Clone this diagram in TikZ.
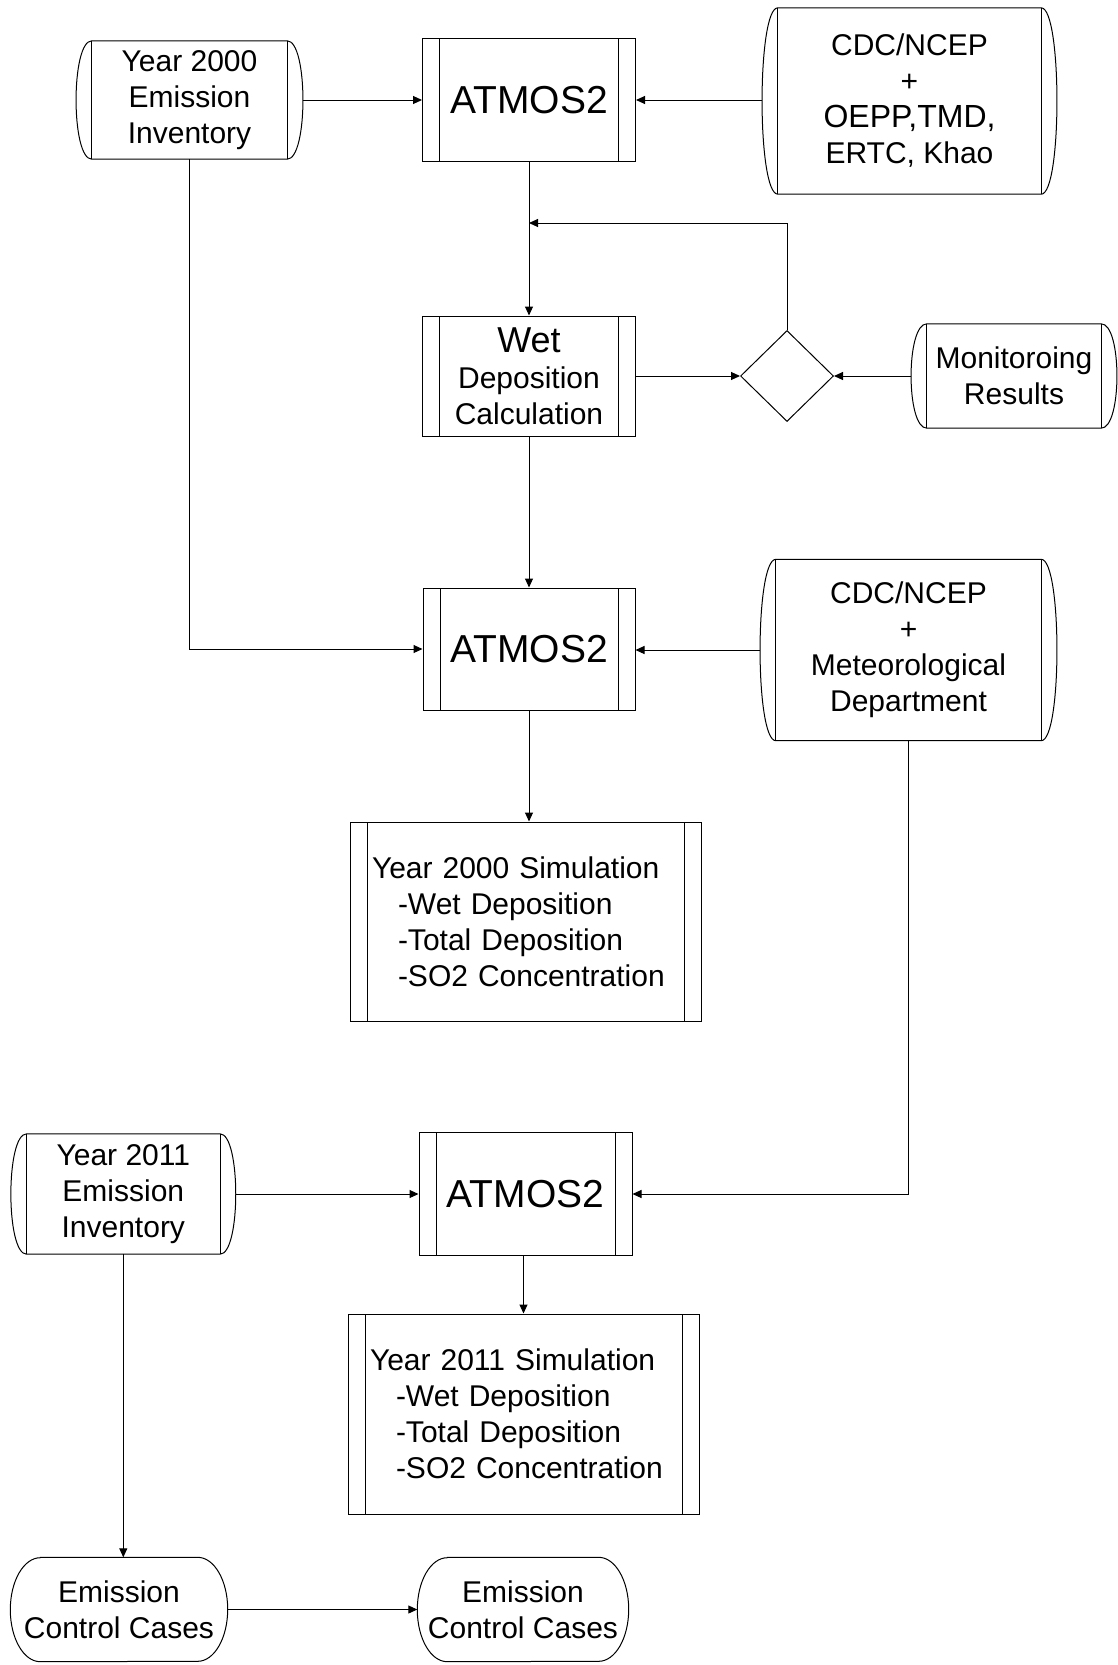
\documentclass[tikz,border=0pt]{standalone}
\usepackage{fontspec}
\setmainfont{Liberation Sans}
\usetikzlibrary{shapes.geometric,arrows.meta}
\begin{document}
\begin{tikzpicture}[x=1pt,y=-1pt,
  every node/.style={font=\fontsize{30pt}{36pt}\selectfont, inner sep=0pt, align=center},
  line/.style={line width=1pt},
  arr/.style={line width=1pt, -{Triangle[length=9pt,width=8pt]}},
  sub/.style={draw, line width=1pt, path picture={
     \draw[line width=1pt] ([xshift=17pt]path picture bounding box.north west) -- ([xshift=17pt]path picture bounding box.south west);
     \draw[line width=1pt] ([xshift=-17pt]path picture bounding box.north east) -- ([xshift=-17pt]path picture bounding box.south east);}},
  big/.style={font=\fontsize{39pt}{44pt}\selectfont},
  store/.style={draw=none},
  term/.style={draw=none, minimum width=#1, minimum height=104pt},
  simtext/.style={align=left, text width=307pt, inner xsep=22pt, minimum height=199pt}
]
\useasboundingbox (0,0) rectangle (1118,1665);

% top row
\node[store, minimum width=227pt, minimum height=118pt] (y2000) at (189.5,100) {Year 2000\\Emission\\Inventory};
\node[sub, big, minimum width=213pt, minimum height=123pt] (atmA) at (529,100) {ATMOS2};
\node[store, minimum width=295pt, minimum height=186pt] (cdcA) at (909.5,101) {CDC/NCEP\\+\\{\fontsize{32pt}{36pt}\selectfont OEPP,TMD,}\\ERTC, Khao};

% wet deposition row
\node[sub, minimum width=213pt, minimum height=120pt] (wet) at (529,376) {{\fontsize{36pt}{36pt}\selectfont Wet}\\Deposition\\Calculation};
\node[diamond, draw, line width=1pt, minimum width=93pt, minimum height=91pt, aspect=1] (dia) at (787,376) {};
\node[store, minimum width=206pt, minimum height=104pt] (mon) at (1014,376) {Monitoroing\\Results};

% second ATMOS2 row
\node[sub, big, minimum width=212pt, minimum height=122pt] (atmB) at (529,649) {ATMOS2};
\node[store, minimum width=297pt, minimum height=181pt] (cdcB) at (908.5,650) {CDC/NCEP\\+\\Meteorological\\Department};

\node[sub, simtext] (sim1) at (525.5,921.5) {Year 2000 Simulation\\\hspace*{26pt}-Wet Deposition\\\hspace*{26pt}-Total Deposition\\\hspace*{26pt}-SO2 Concentration};

% 2011 row
\node[store, minimum width=225pt, minimum height=120pt] (y2011) at (123.3,1194) {Year 2011\\Emission\\Inventory};
\node[sub, big, minimum width=213pt, minimum height=123pt] (atmC) at (525.5,1194) {ATMOS2};

\node[sub, simtext, minimum height=200pt] (sim2) at (523.5,1414) {Year 2011 Simulation\\\hspace*{26pt}-Wet Deposition\\\hspace*{26pt}-Total Deposition\\\hspace*{26pt}-SO2 Concentration};

\node[term=217pt] (eccA) at (119,1609.5) {Emission\\Control Cases};
\node[term=211pt] (eccB) at (523,1609.5) {Emission\\Control Cases};

% storage shapes
\foreach \n in {y2000,cdcA,mon,cdcB,y2011}{
  \draw[line] ([xshift=16pt]\n.north west) -- ([xshift=-16pt]\n.north east)
    .. controls +(21pt,0pt) and +(21pt,0pt) .. ([xshift=-16pt]\n.south east)
    -- ([xshift=16pt]\n.south west)
    .. controls +(-21pt,0pt) and +(-21pt,0pt) .. ([xshift=16pt]\n.north west);
  \draw[line] ([xshift=16pt]\n.north west) -- ([xshift=16pt]\n.south west);
  \draw[line] ([xshift=-16pt]\n.north east) -- ([xshift=-16pt]\n.south east);
}
% terminator shapes
\foreach \n in {eccA,eccB}{
  \draw[line] ([xshift=30pt]\n.north west) -- ([xshift=-30pt]\n.north east)
    arc[start angle=90,end angle=-90,x radius=30pt,y radius=52pt]
    -- ([xshift=30pt]\n.south west)
    arc[start angle=270,end angle=90,x radius=30pt,y radius=52pt] -- cycle;
}

% connectors
\coordinate (fb) at (529,223);
\draw[arr] (y2000.east) -- (atmA.west);
\draw[arr] (cdcA.west |- atmA.east) -- (atmA.east);
\draw[arr] (atmA.south) -- (wet.north);
\draw[arr] (dia.north) |- (fb);
\draw[arr] (wet.east) -- (dia.west);
\draw[arr] (mon.west) -- (dia.east);
\draw[arr] (wet.south) -- (atmB.north);
\draw[arr] (y2000.south) |- (atmB.west);
\draw[arr] (cdcB.west) -- (cdcB.west -| atmB.east);
\draw[arr] (atmB.south) -- (atmB.south |- sim1.north);
\draw[arr] (cdcB.south) |- (atmC.east);
\draw[arr] (y2011.east) -- (atmC.west);
\draw[arr] (sim2.north |- atmC.south) -- (sim2.north);
\draw[arr] (y2011.south) -- (y2011.south |- eccA.north);
\draw[arr] (eccA.east) -- (eccB.west);
\end{tikzpicture}
\end{document}
